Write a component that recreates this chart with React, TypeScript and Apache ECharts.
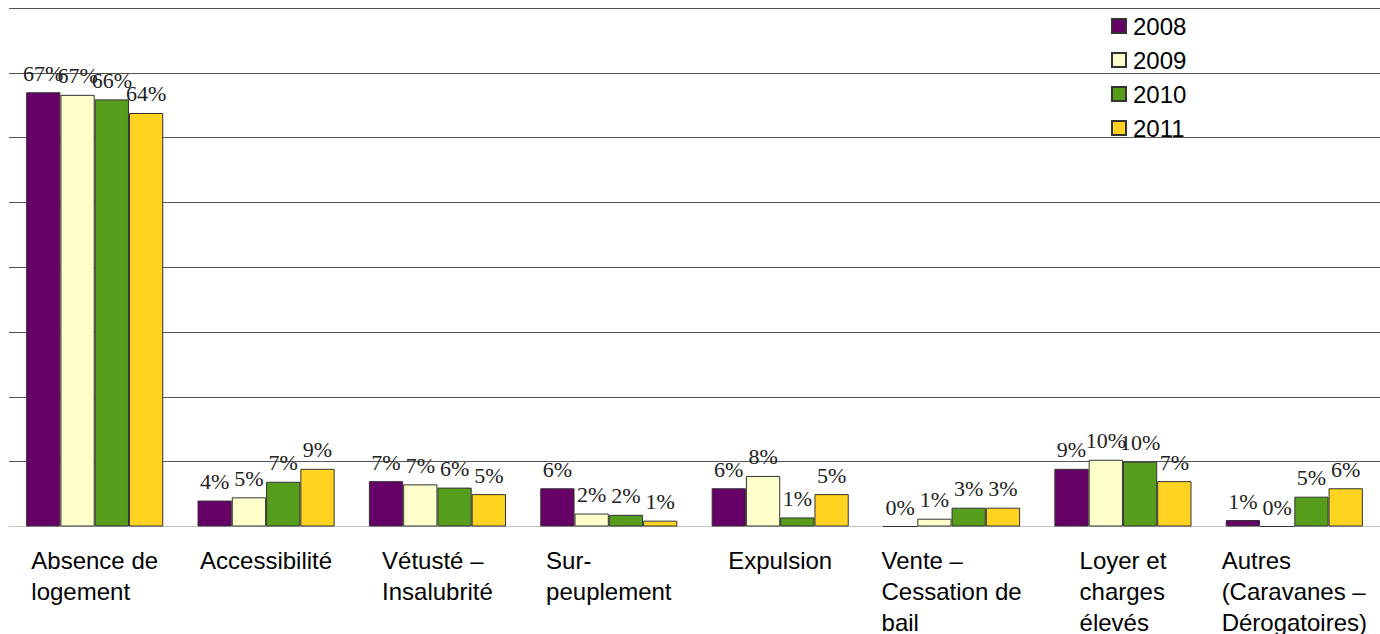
import React, { useEffect, useRef } from "react";
import * as echarts from "echarts";

const categories = [
  "Absence de\nlogement",
  "Accessibilité",
  "Vétusté –\nInsalubrité",
  "Sur-\npeuplement",
  "Expulsion",
  "Vente –\nCessation de\nbail",
  "Loyer et\ncharges\nélevés",
  "Autres\n(Caravanes –\nDérogatoires)",
];

const seriesNames = ["2008", "2009", "2010", "2011"];
const values2008 = [67.0, 4.0, 7.0, 5.9, 5.9, 0, 8.9, 1.0];
const values2009 = [66.6, 4.5, 6.5, 2.0, 7.8, 1.2, 10.3, 0];
const values2010 = [65.9, 6.9, 6.0, 1.8, 1.4, 2.9, 10.0, 4.6];
const values2011 = [63.8, 8.9, 5.0, 0.9, 5.0, 2.9, 7.0, 5.9];
const colors = ["#660066", "#FFFFCC", "#579D1C", "#FFD320"];

export default function App() {
  const ref = useRef<HTMLDivElement>(null);
  useEffect(() => {
    if (!ref.current) return;
    const chart = echarts.init(ref.current, undefined, { renderer: "svg" });
    const allValues = [values2008, values2009, values2010, values2011];
    chart.setOption({
      animation: false,
      backgroundColor: "#ffffff",
      grid: { left: 9, right: -6, top: 8, bottom: 101, containLabel: false },
      legend: {
        orient: "vertical",
        left: 1106,
        top: 9,
        itemWidth: 14,
        itemHeight: 14,
        itemGap: 10,
        icon: "rect",
        textStyle: {
          fontFamily: "Liberation Sans",
          fontSize: 24,
          color: "#000",
          padding: [0, 0, 0, 2],
        },
        data: seriesNames,
      },
      xAxis: {
        type: "category",
        data: categories,
        axisLine: { lineStyle: { color: "#c4c4c4", width: 1 } },
        axisTick: { length: 12, lineStyle: { color: "#c8c8c8" } },
        axisLabel: {
          interval: 0,
          margin: 18,
          align: "center",
          formatter: (v: string) =>
            v
              .split("\n")
              .map((l) => `{a|${l}}`)
              .join("\n"),
          rich: {
            a: {
              align: "left",
              fontFamily: "Liberation Sans",
              fontSize: 24,
              lineHeight: 31,
              color: "#000",
            },
          },
        },
      },
      yAxis: {
        type: "value",
        min: 0,
        max: 80,
        interval: 10,
        axisLabel: { show: false },
        axisLine: { show: false },
        axisTick: { show: false },
        splitLine: { lineStyle: { color: "#555", width: 1 } },
      },
      series: seriesNames.map((name, i) => ({
        name,
        type: "bar",
        data: allValues[i],
        barGap: "0%",
        barCategoryGap: "20%",
        itemStyle: { color: colors[i], borderColor: "#333", borderWidth: 1 },
        label: {
          show: true,
          position: "top",
          distance: 8,
          fontFamily: "Liberation Serif",
          fontSize: 22,
          color: "#222",
          formatter: (p: any) => `${Math.round(p.value)}%`,
        },
      })),
    });
    return () => chart.dispose();
  }, []);
  return (
    <div
      ref={ref}
      style={{ position: "absolute", left: 0, top: 0, width: 1380, height: 634 }}
    />
  );
}
